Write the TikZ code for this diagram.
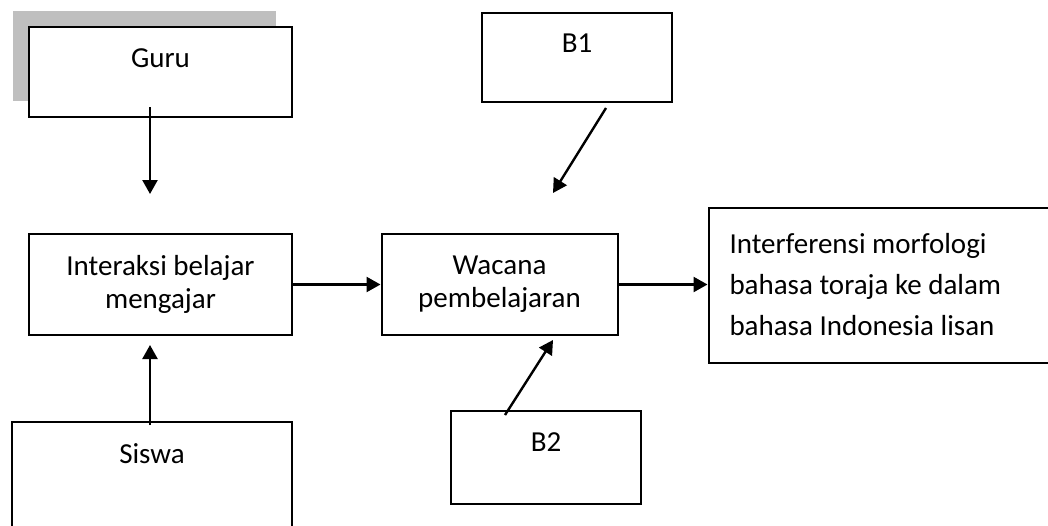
\documentclass[tikz,border=0pt]{standalone}
\usepackage{fontspec}
\setmainfont{Carlito}
\usepackage{tikz}
\usetikzlibrary{arrows.meta,positioning,shadows}

\begin{document}
\begin{tikzpicture}[
    x=1pt, y=-1pt,
    font=\fontsize{29}{33}\selectfont,
    box/.style={
        draw=black,
        fill=white,
        line width=2pt,
        inner sep=0pt,
        align=center
    },
    oneline/.style={
        text height=20pt,
        text depth=#1
    },
    oneline/.default=30pt,
    arrow/.style={
        -{Triangle[length=14pt,width=15pt]},
        line width=2.4pt,
        black
    }
]
\useasboundingbox (0,0) rectangle (1048,525);
\clip (0,0) rectangle (1048,525);
% Guru (with grey shadow up-left)
\node[box, oneline, minimum width=263pt, minimum height=90pt,
      general shadow={fill=black!25, shadow xshift=-16pt, shadow yshift=16pt}]
      at (160.5,72) (guru) {Guru};
% B1
\node[box, oneline=31pt, minimum width=190pt, minimum height=89pt] at (577,57.5) (b1) {B1};
% Interaksi belajar mengajar
\node[box, minimum width=263pt, minimum height=101pt] at (160.5,284.5) (interaksi) {
    Interaksi belajar\\
    mengajar
};
% Wacana pembelajaran
\node[box, minimum width=236pt, minimum height=101pt] at (499.5,284.5) (wacana) {
    Wacana\\
    pembelajaran
};
% Interferensi (runs past the right edge)
\node[box, anchor=west, align=flush left, inner xsep=21pt, text width=320pt,
      minimum height=155pt, font=\fontsize{29}{41}\selectfont] at (707.5,285) (interferensi) {
    Interferensi morfologi\\
    bahasa toraja ke dalam\\
    bahasa Indonesia lisan
};
% B2
\node[box, oneline=33pt, minimum width=190pt, minimum height=93pt] at (546,457.5) (b2) {B2};
% Siswa (runs past the bottom edge)
\node[box, oneline=56pt, minimum width=280pt, minimum height=118pt] at (152,481) (siswa) {Siswa};

% Free ends of the arrows
\coordinate (guruend) at (150,194);
\coordinate (b1end) at (553,193);
\coordinate (b2end) at (553,340);
\coordinate (siswaend) at (150,345);

% Arrows
\draw[arrow] ([xshift=-10.5pt,yshift=11pt]guru.south) -- (guruend);
\draw[arrow] ([xshift=29pt,yshift=-5pt]b1.south) -- (b1end);
\draw[arrow] ([xshift=-41pt,yshift=-5pt]b2.north) -- (b2end);
\draw[arrow] ([xshift=-2pt,yshift=-4pt]siswa.north) -- (siswaend);
\draw[arrow] (interaksi.east) -- (wacana.west);
\draw[arrow] (wacana.east) -- (wacana.east -| interferensi.west);
\end{tikzpicture}
\end{document}
